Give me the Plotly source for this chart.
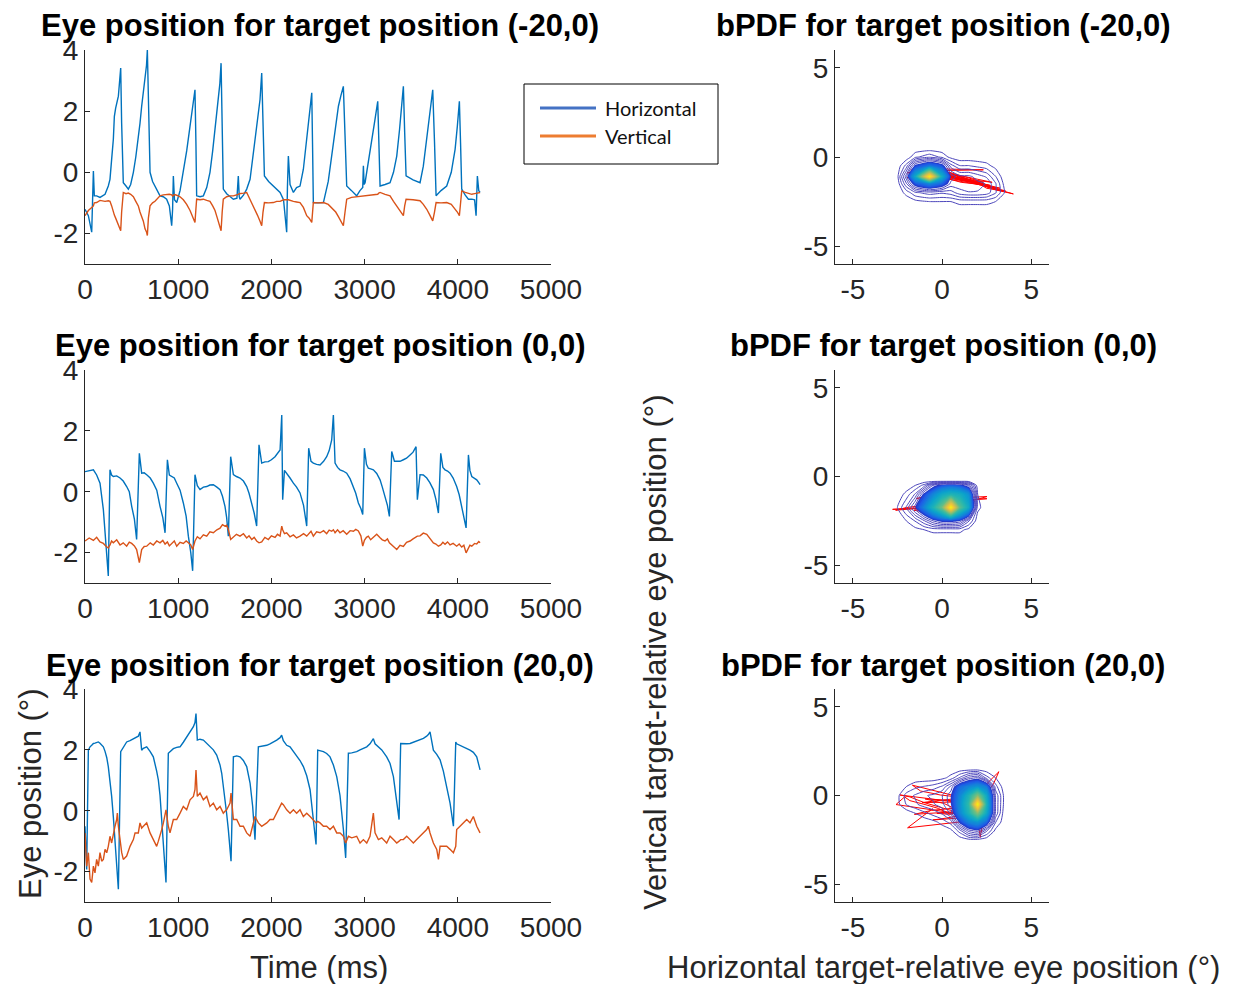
import plotly.graph_objects as go

# ---------------- time series data (ms, degrees) ----------------
t_top = [0,36,72,82,90,100,125,161,215,250,
         268,286,304,315,329,358,368,383,393,404,
         411,440,465,490,519,545,572,590,608,626,
         644,660,669,680,698,725,751,780,805,840,
         876,905,930,940,948,960,984,1020,1055,1091,
         1127,1155,1180,1190,1198,1234,1270,1306,1341,1370,
         1395,1415,1431,1447,1460,1472,1484,1520,1556,1592,
         1630,1645,1655,1663,1700,1735,1771,1800,1824,1850,
         1878,1896,1910,1925,1970,2021,2057,2093,2130,2164,
         2172,2182,2200,2236,2270,2307,2343,2379,2405,2433,
         2442,2450,2500,2558,2610,2665,2690,2719,2745,2772,
         2790,2808,2860,2915,2950,2980,2987,2995,3005,3040,
         3076,3110,3141,3152,3166,3220,3273,3310,3345,3375,
         3398,3416,3430,3445,3520,3595,3630,3667,3700,3731,
         3750,3767,3820,3881,3930,3971,3995,4017,4030,4042,
         4080,4114,4150,4180,4196,4210,4225,4239]
h_top = [-1.21,-1.42,-1.96,-0.77,0.04,-0.77,-0.77,-0.82,-0.72,-0.45,
         -0.23,0.43,1.07,1.83,2.10,2.49,2.82,3.41,1.62,-0.34,
         -0.34,-0.45,-0.55,-0.40,0.00,0.50,1.07,1.60,2.16,2.60,
         3.03,3.50,4.00,2.00,0.00,-0.30,-0.45,-0.60,-0.77,-0.80,
         -0.88,-1.10,-1.75,-1.20,-0.12,-0.90,-0.99,-0.60,0.00,0.70,
         1.51,2.10,2.70,1.00,-0.77,-0.80,-0.77,-0.50,0.00,0.70,
         1.40,1.95,2.38,2.90,3.57,1.50,-0.55,-0.70,-0.80,-0.88,
         -0.85,-0.12,-0.80,-0.88,-0.75,-0.55,-0.23,0.50,1.07,1.70,
         2.38,3.25,1.50,-0.12,-0.30,-0.45,-0.55,-0.66,-0.90,-1.96,
         -0.50,0.53,-0.40,-0.66,-0.50,-0.45,0.10,1.07,1.80,2.60,
         0.80,-0.99,-1.00,-0.99,-0.30,0.86,1.50,2.16,2.50,2.81,
         1.20,-0.45,-0.60,-0.77,-0.60,-0.50,0.21,-0.40,-0.34,0.30,
         1.07,1.70,2.32,0.90,-0.45,-0.40,-0.34,0.00,0.53,1.40,
         2.38,2.81,1.30,-0.12,-0.25,-0.34,0.20,1.07,1.90,2.70,
         1.00,-0.77,-0.60,-0.45,0.00,0.75,1.50,2.32,0.90,-0.55,
         -0.75,-0.88,-0.88,-0.90,-1.42,-0.12,-0.60,-0.66]
v_top = [-1.42,-1.25,-1.15,-1.10,-1.10,-1.00,-0.99,-0.92,-0.95,-0.93,
         -0.95,-1.10,-1.31,-1.40,-1.50,-1.75,-1.80,-1.91,-1.30,-0.66,
         -0.66,-0.70,-0.68,-0.72,-0.80,-0.95,-1.10,-1.30,-1.45,-1.60,
         -1.85,-1.95,-2.07,-1.50,-1.10,-1.00,-0.95,-0.85,-0.77,-0.74,
         -0.72,-0.72,-0.74,-0.78,-0.75,-0.73,-0.75,-0.80,-0.90,-1.05,
         -1.25,-1.45,-1.64,-1.20,-0.88,-0.90,-0.88,-0.92,-0.95,-1.10,
         -1.25,-1.45,-1.64,-1.80,-1.91,-1.30,-0.88,-0.80,-0.77,-0.77,
         -0.75,-0.72,-0.70,-0.70,-0.68,-0.66,-0.88,-1.05,-1.20,-1.40,
         -1.60,-1.75,-1.30,-0.99,-1.00,-0.99,-0.95,-0.95,-0.90,-0.88,
         -0.90,-0.90,-0.92,-0.95,-0.97,-0.99,-1.15,-1.42,-1.50,-1.64,
         -1.30,-0.99,-1.00,-0.99,-1.05,-1.21,-1.30,-1.45,-1.60,-1.75,
         -1.30,-0.88,-0.82,-0.80,-0.78,-0.77,-0.77,-0.77,-0.77,-0.76,
         -0.75,-0.73,-0.72,-0.68,-0.66,-0.72,-0.77,-0.95,-1.10,-1.25,
         -1.35,-1.42,-1.10,-0.88,-0.90,-0.93,-1.05,-1.21,-1.40,-1.59,
         -1.30,-0.99,-1.00,-0.99,-1.05,-1.20,-1.30,-1.42,-1.00,-0.61,
         -0.66,-0.70,-0.72,-0.70,-0.70,-0.68,-0.67,-0.66]

t_mid = [0,45,90,125,161,197,225,250,268,285,
         304,340,376,410,447,475,501,530,554,583,
         608,635,662,700,733,770,805,835,859,884,
         905,930,958,984,1020,1055,1085,1109,1135,1155,
         1180,1205,1234,1270,1306,1340,1377,1415,1449,1475,
         1502,1520,1538,1563,1592,1625,1663,1700,1735,1760,
         1789,1815,1842,1867,1896,1930,1967,2000,2039,2065,
         2093,2111,2121,2140,2164,2200,2236,2270,2307,2345,
         2379,2400,2425,2450,2485,2522,2560,2593,2620,2647,
         2665,2683,2710,2736,2770,2808,2845,2880,2905,2933,
         2960,2980,2998,3020,3040,3065,3094,3130,3166,3190,
         3219,3245,3266,3291,3320,3345,3380,3416,3450,3488,
         3520,3552,3566,3595,3630,3667,3700,3738,3765,3792,
         3817,3840,3863,3890,3917,3950,3988,4015,4042,4065,
         4089,4114,4130,4150,4180,4203,4225,4239]
h_mid = [0.66,0.70,0.72,0.55,0.28,-0.59,-1.79,-2.77,0.72,0.55,
         0.50,0.52,0.45,0.35,0.17,0.00,-0.48,-0.90,-1.57,1.26,
         0.61,0.62,0.56,0.45,0.28,0.05,-0.48,-0.85,-1.35,1.05,
         0.55,0.50,0.45,0.28,0.05,-0.37,-0.80,-1.46,-2.00,-2.60,
         0.56,0.20,0.07,0.15,0.17,0.22,0.23,0.15,0.07,-0.15,
         -0.48,-0.85,-1.46,1.15,0.56,0.50,0.45,0.35,0.17,-0.05,
         -0.37,-0.70,-1.13,1.54,0.94,0.98,0.99,1.05,1.15,1.25,
         1.37,2.52,-0.26,0.70,0.61,0.45,0.28,0.15,-0.04,-0.45,
         -1.13,1.43,1.00,0.94,0.90,0.88,1.00,1.15,1.35,1.70,
         2.52,0.94,0.80,0.72,0.68,0.61,0.42,0.17,-0.05,-0.37,
         -0.55,-0.75,1.43,0.90,0.77,0.75,0.72,0.60,0.39,0.15,
         -0.15,-0.45,-0.81,1.32,1.00,0.99,1.00,1.05,1.10,1.21,
         1.30,1.48,-0.26,0.56,0.55,0.45,0.30,0.07,-0.25,-0.70,
         1.26,0.80,0.72,0.68,0.61,0.45,0.17,-0.10,-0.48,-0.80,
         -1.19,1.21,0.70,0.50,0.45,0.39,0.30,0.23]
v_mid = [-1.62,-1.52,-1.60,-1.50,-1.65,-1.70,-1.79,-1.85,-1.75,-1.62,
         -1.68,-1.58,-1.75,-1.68,-1.79,-1.66,-1.70,-1.78,-1.90,-2.33,
         -1.90,-1.80,-1.79,-1.68,-1.75,-1.62,-1.68,-1.60,-1.72,-1.65,
         -1.78,-1.70,-1.62,-1.79,-1.66,-1.70,-1.62,-1.68,-1.75,-1.90,
         -1.62,-1.48,-1.55,-1.42,-1.46,-1.32,-1.35,-1.25,-1.20,-1.08,
         -1.13,-1.10,-1.24,-1.57,-1.50,-1.40,-1.46,-1.38,-1.52,-1.45,
         -1.57,-1.50,-1.62,-1.68,-1.65,-1.50,-1.57,-1.45,-1.50,-1.40,
         -1.46,-1.13,-1.25,-1.38,-1.35,-1.48,-1.42,-1.52,-1.46,-1.38,
         -1.46,-1.40,-1.30,-1.46,-1.32,-1.35,-1.28,-1.38,-1.26,-1.30,
         -1.25,-1.35,-1.25,-1.35,-1.28,-1.40,-1.28,-1.30,-1.24,-1.29,
         -1.45,-1.79,-1.60,-1.50,-1.46,-1.58,-1.50,-1.40,-1.51,-1.58,
         -1.62,-1.55,-1.68,-1.75,-1.82,-1.90,-1.76,-1.80,-1.66,-1.62,
         -1.55,-1.50,-1.46,-1.45,-1.36,-1.40,-1.55,-1.68,-1.72,-1.79,
         -1.75,-1.66,-1.73,-1.65,-1.75,-1.70,-1.79,-1.72,-1.82,-1.76,
         -2.01,-1.85,-1.76,-1.79,-1.70,-1.72,-1.64,-1.68]

t_bot = [0,18,36,54,72,90,107,125,143,161,
         179,197,215,233,250,268,286,304,322,340,
         347,358,383,394,411,447,483,519,537,572,
         590,608,626,662,698,733,769,787,805,823,
         841,859,869,894,912,948,984,1020,1055,1091,
         1127,1163,1180,1191,1205,1234,1270,1306,1341,1377,
         1413,1449,1467,1484,1502,1520,1538,1556,1567,1592,
         1628,1663,1699,1735,1771,1799,1824,1860,1896,1950,
         1985,2021,2057,2093,2110,2128,2164,2200,2236,2271,
         2307,2343,2379,2415,2450,2479,2497,2522,2558,2593,
         2629,2665,2701,2736,2754,2772,2797,2826,2862,2915,
         2951,2987,3023,3058,3094,3112,3148,3184,3237,3273,
         3309,3345,3370,3387,3416,3452,3488,3523,3559,3595,
         3631,3666,3684,3702,3738,3774,3792,3810,3845,3863,
         3881,3917,3953,3978,3988,4024,4060,4096,4131,4167,
         4203,4239]
h_bot = [-0.51,-1.93,1.99,2.10,2.15,2.21,2.22,2.24,2.26,2.22,
         2.16,2.10,1.95,1.75,1.45,1.00,0.47,-0.20,-0.95,-1.80,
         -2.10,-2.58,1.94,2.00,2.10,2.26,2.30,2.37,2.38,2.45,
         2.59,1.99,2.05,2.10,1.95,1.77,1.30,1.01,0.50,-0.29,
         -1.00,-1.80,-2.36,1.89,1.95,2.04,2.08,2.10,2.25,2.43,
         2.60,2.76,2.90,3.19,2.32,2.35,2.32,2.20,2.10,2.00,
         1.83,1.50,1.23,0.85,0.36,-0.10,-0.62,-1.20,-1.66,1.77,
         1.80,1.77,1.65,1.45,0.91,0.14,-0.95,2.10,2.12,2.15,
         2.20,2.25,2.32,2.40,2.48,2.30,2.15,2.10,1.95,1.77,
         1.65,1.45,1.15,0.69,-0.29,-1.11,1.99,1.97,1.94,1.88,
         1.77,1.50,1.12,0.50,0.03,-0.60,-1.55,1.89,1.90,1.94,
         2.00,2.05,2.10,2.20,2.37,2.20,2.10,2.00,1.77,1.55,
         1.12,0.36,-0.29,2.21,2.20,2.20,2.21,2.25,2.28,2.32,
         2.38,2.45,2.50,2.59,1.99,1.85,1.78,1.67,1.30,1.01,
         0.80,0.25,-0.51,2.26,2.20,2.15,2.08,2.03,1.99,1.92,
         1.77,1.34]
v_bot = [-0.73,-1.82,-1.38,-2.25,-2.36,-1.82,-2.04,-1.60,-1.82,-1.38,
         -1.66,-1.60,-1.27,-1.38,-1.17,-0.84,-1.06,-0.73,-0.51,-0.29,
         -0.08,-0.51,-1.17,-1.38,-1.60,-1.49,-1.17,-0.95,-0.73,-0.73,
         -0.40,-0.57,-0.51,-0.40,-0.73,-0.95,-1.17,-1.00,-0.84,-0.62,
         -0.40,-0.08,0.03,-0.51,-0.73,-0.29,-0.29,-0.08,0.14,0.03,
         0.36,0.47,0.69,1.34,0.47,0.58,0.36,0.47,0.14,0.25,
         0.03,0.14,0.03,-0.08,-0.02,0.03,0.14,0.25,0.58,-0.29,
         -0.29,-0.51,-0.51,-0.73,-0.84,-0.46,-0.19,-0.40,-0.51,-0.40,
         -0.29,-0.29,-0.08,0.14,0.25,0.20,0.03,-0.08,0.03,-0.08,
         0.03,-0.19,-0.08,-0.19,-0.29,-0.40,-0.35,-0.40,-0.51,-0.51,
         -0.62,-0.51,-0.73,-0.73,-0.78,-0.84,-1.06,-0.84,-0.89,-0.84,
         -1.06,-0.95,-1.06,-0.84,-0.08,-0.73,-0.95,-0.89,-1.06,-0.84,
         -0.95,-1.06,-1.00,-0.95,-0.95,-0.84,-0.95,-1.06,-0.95,-0.84,
         -0.73,-0.62,-0.51,-0.73,-1.06,-1.27,-1.60,-1.17,-1.17,-1.17,
         -1.17,-1.27,-1.38,-1.17,-0.62,-0.51,-0.40,-0.29,-0.40,-0.19,
         -0.51,-0.73]

# ---------------- bivariate PDF grids (relative density) ----------------
pdf_top_x = [-3,-2.5,-2,-1.5,-0.7,0,0.5,1,1.5,2,2.5,3,3.5,4]
pdf_top_y = [-3,-2.5,-2,-1.5,-1.1,-0.5,0,0.5]
pdf_top_z = [
    [0,0,0,0,0,0,0,0,0,0,0,0,0,0],
    [0,0,0,0.01,0.02,0.02,0.02,0.03,0.03,0.03,0.03,0.02,0,0],
    [0,0,0.03,0.07,0.09,0.08,0.09,0.12,0.13,0.13,0.12,0.08,0.02,0],
    [0,0,0.10,0.22,0.30,0.24,0.15,0.15,0.15,0.14,0.13,0.08,0.01,0],
    [0,0.01,0.15,0.40,1.00,0.42,0.18,0.14,0.14,0.12,0.10,0.05,0,0],
    [0,0,0.06,0.20,0.28,0.22,0.09,0.05,0.05,0.04,0.03,0.01,0,0],
    [0,0,0,0.04,0.07,0.04,0.01,0,0,0,0,0,0,0],
    [0,0,0,0,0,0,0,0,0,0,0,0,0,0],
]
pdf_mid_x = [-3.5,-3,-2.5,-2,-1.5,-1,-0.5,0,0.5,1,1.5,2,2.5]
pdf_mid_y = [-3.5,-3,-2.5,-1.75,-1,-0.5,-0.25,0.5]
pdf_mid_z = [
    [0,0,0,0,0,0,0,0,0,0,0,0,0],
    [0,0,0,0,0.01,0.02,0.03,0.03,0.03,0.03,0.01,0,0],
    [0,0,0,0.02,0.05,0.10,0.16,0.20,0.20,0.18,0.08,0,0],
    [0,0,0.02,0.08,0.18,0.30,0.45,0.62,1.00,0.58,0.40,0.03,0],
    [0,0,0,0.03,0.08,0.20,0.30,0.40,0.45,0.42,0.33,0.02,0],
    [0,0,0,0,0.02,0.06,0.16,0.22,0.24,0.22,0.15,0,0],
    [0,0,0,0,0,0,0,0,0,0,0,0,0],
    [0,0,0,0,0,0,0,0,0,0,0,0,0],
]
pdf_bot_x = [-3.5,-3,-2.5,-2,-1.5,-1,-0.5,0,0.5,1,1.5,2,2.5,3,3.5,4]
pdf_bot_y = [-3,-2.5,-2,-1.5,-1,-0.5,0,0.5,1,1.5,2]
pdf_bot_z = [
    [0,0,0,0,0,0,0,0,0,0,0,0,0,0,0,0],
    [0,0,0,0,0,0,0,0,0,0,0.01,0.01,0,0,0,0],
    [0,0,0,0,0,0,0,0,0.01,0.06,0.14,0.17,0.08,0.01,0,0],
    [0,0,0,0,0,0,0.01,0.03,0.06,0.20,0.30,0.34,0.25,0.05,0,0],
    [0,0,0,0,0.02,0.04,0.06,0.08,0.14,0.30,0.45,0.65,0.40,0.10,0,0],
    [0,0,0.01,0.05,0.07,0.09,0.10,0.12,0.18,0.32,0.50,1.00,0.45,0.10,0.01,0],
    [0,0,0.01,0.06,0.08,0.10,0.11,0.13,0.18,0.30,0.45,0.65,0.40,0.10,0.01,0],
    [0,0,0,0.02,0.04,0.05,0.06,0.08,0.14,0.25,0.30,0.34,0.28,0.06,0,0],
    [0,0,0,0,0,0,0,0.01,0.03,0.08,0.14,0.16,0.06,0.02,0,0],
    [0,0,0,0,0,0,0,0,0,0,0,0,0,0,0,0],
    [0,0,0,0,0,0,0,0,0,0,0,0,0,0,0,0],
]

# tick labels
time_ticks = [0,1000,2000,3000,4000,5000]
time_tick_text = ["0","1000","2000","3000","4000","5000"]
eye_ticks = [-2,0,2,4]
eye_tick_text = ["-2","0","2","4"]
pdf_ticks = [-5,0,5]
pdf_tick_text = ["-5","0","5"]

titles_left = ["Eye position for target position (-20,0)",
               "Eye position for target position (0,0)",
               "Eye position for target position (20,0)"]
titles_right = ["bPDF for target position (-20,0)",
                "bPDF for target position (0,0)",
                "bPDF for target position (20,0)"]

# ---------------- style ----------------
W, H = 1236, 984
BLUE = "#0072BD"
ORANGE = "#D95319"
AX = "#262626"
FONT = "Liberation Sans, Arial, Helvetica, sans-serif"
PARULA = [[0, "rgba(255,255,255,0)"], [0.02, "#2436C8"], [0.07, "#1E5AE6"],
          [0.14, "#1580DA"], [0.24, "#0BA2CC"], [0.36, "#25B6B0"],
          [0.50, "#62BE88"], [0.64, "#AABD64"], [0.80, "#EEC23C"], [1, "#F9F50E"]]
LINE_LEVEL = "#4D47BC"
FILL_START = 0.18

def px_x(p):
    return p / W

def px_y(p):
    return 1 - p / H

left_dom = [px_x(85), px_x(551)]
right_dom = [px_x(835), px_x(1049)]
row_doms = [[px_y(264), px_y(50)], [px_y(583), px_y(370)], [px_y(902), px_y(689)]]

fig = go.Figure()

series = [(t_top, h_top, v_top), (t_mid, h_mid, v_mid), (t_bot, h_bot, v_bot)]
pdfs = [(pdf_top_x, pdf_top_y, pdf_top_z), (pdf_mid_x, pdf_mid_y, pdf_mid_z),
        (pdf_bot_x, pdf_bot_y, pdf_bot_z)]

for i in range(3):
    la = 2 * i + 1
    ra = 2 * i + 2
    oa = 7 + i
    lx = "x" if la == 1 else f"x{la}"
    ly = "y" if la == 1 else f"y{la}"
    t, h, v = series[i]
    fig.add_trace(go.Scatter(x=t, y=h, mode="lines", line=dict(color=BLUE, width=1.4),
                             xaxis=lx, yaxis=ly, showlegend=False, hoverinfo="skip"))
    fig.add_trace(go.Scatter(x=t, y=v, mode="lines", line=dict(color=ORANGE, width=1.4),
                             xaxis=lx, yaxis=ly, showlegend=False, hoverinfo="skip"))
    # trajectory (horizontal vs vertical), underneath the density
    fig.add_trace(go.Scatter(x=h, y=v, mode="lines", line=dict(color="#FF0000", width=1),
                             xaxis=f"x{ra}", yaxis=f"y{ra}", showlegend=False,
                             hoverinfo="skip"))
    px_, py_, pz_ = pdfs[i]
    fig.add_trace(go.Contour(x=px_, y=py_, z=pz_, xaxis=f"x{oa}", yaxis=f"y{oa}",
                             showscale=False, autocontour=False, colorscale=PARULA,
                             contours=dict(coloring="fill", start=FILL_START, end=1.0,
                                           size=0.02, showlines=False),
                             line=dict(width=0, smoothing=0.5),
                             hoverinfo="skip"))
    fig.add_trace(go.Contour(x=px_, y=py_, z=pz_, xaxis=f"x{oa}", yaxis=f"y{oa}",
                             showscale=False, autocontour=False,
                             contours=dict(coloring="none", start=0.02, end=0.16, size=0.028),
                             line=dict(color=LINE_LEVEL, width=1, smoothing=0.5),
                             hoverinfo="skip"))

axis_common = dict(showline=True, linecolor=AX, linewidth=1, ticks="inside", ticklen=5,
                   tickcolor=AX, tickwidth=1, showgrid=False, zeroline=False,
                   automargin=False,
                   tickfont=dict(family=FONT, size=28, color=AX), fixedrange=True)

layout = dict(template="none", width=W, height=H, autosize=False,
              margin=dict(l=0, r=0, t=0, b=0, pad=0, autoexpand=False),
              paper_bgcolor="white", plot_bgcolor="rgba(0,0,0,0)", showlegend=False)

for i in range(3):
    la = 2 * i + 1
    ra = 2 * i + 2
    oa = 7 + i
    lxk = "xaxis" if la == 1 else f"xaxis{la}"
    lyk = "yaxis" if la == 1 else f"yaxis{la}"
    lyref = "y" if la == 1 else f"y{la}"
    lxref = "x" if la == 1 else f"x{la}"
    layout[lxk] = dict(axis_common, domain=left_dom, range=[0, 5000], anchor=lyref,
                       tickvals=time_ticks, ticktext=time_tick_text)
    layout[lyk] = dict(axis_common, domain=row_doms[i], range=[-3, 4], anchor=lxref,
                       tickvals=eye_ticks, ticktext=eye_tick_text)
    layout[f"xaxis{ra}"] = dict(axis_common, domain=right_dom, range=[-6, 6], anchor=f"y{ra}",
                                tickvals=pdf_ticks, ticktext=pdf_tick_text)
    layout[f"yaxis{ra}"] = dict(axis_common, domain=row_doms[i], range=[-6, 6], anchor=f"x{ra}",
                                tickvals=pdf_ticks, ticktext=pdf_tick_text)
    layout[f"xaxis{oa}"] = dict(overlaying=f"x{ra}", range=[-6, 6], visible=False,
                                anchor=f"y{oa}", fixedrange=True, automargin=False)
    layout[f"yaxis{oa}"] = dict(overlaying=f"y{ra}", range=[-6, 6], visible=False,
                                anchor=f"x{oa}", fixedrange=True, automargin=False)

fig.update_layout(**layout)

annotations = []
title_y = [26, 346, 665]
for i in range(3):
    annotations.append(dict(text=f"<b>{titles_left[i]}</b>", x=px_x(320), y=px_y(title_y[i]),
                            xref="paper", yref="paper", showarrow=False, xanchor="center",
                            yanchor="middle", font=dict(family=FONT, size=31, color="black")))
    annotations.append(dict(text=f"<b>{titles_right[i]}</b>", x=px_x(943), y=px_y(title_y[i]),
                            xref="paper", yref="paper", showarrow=False, xanchor="center",
                            yanchor="middle", font=dict(family=FONT, size=31, color="black")))

label_font = dict(family=FONT, size=31, color=AX)
annotations += [
    dict(text="Time (ms)", x=px_x(319), y=px_y(967), xref="paper", yref="paper",
         showarrow=False, xanchor="center", yanchor="middle", font=label_font),
    dict(text="Horizontal target-relative eye position (°)", x=px_x(943), y=px_y(967),
         xref="paper", yref="paper", showarrow=False, xanchor="center", yanchor="middle",
         font=label_font),
    dict(text="Eye position (°)", x=px_x(30), y=px_y(794), xref="paper", yref="paper",
         showarrow=False, xanchor="center", yanchor="middle", textangle=-90, font=label_font),
    dict(text="Vertical target-relative eye position (°)", x=px_x(655), y=px_y(652),
         xref="paper", yref="paper", showarrow=False, xanchor="center", yanchor="middle",
         textangle=-90, font=label_font),
]

# legend box (drawn manually)
LEG_FONT = dict(family="Lato, Carlito, Calibri, sans-serif", size=20, color="#111111")
annotations += [
    dict(text="Horizontal", x=px_x(603), y=px_y(108), xref="paper", yref="paper",
         showarrow=False, xanchor="left", yanchor="middle", font=LEG_FONT),
    dict(text="Vertical", x=px_x(603), y=px_y(136), xref="paper", yref="paper",
         showarrow=False, xanchor="left", yanchor="middle", font=LEG_FONT),
]
shapes = [
    dict(type="rect", xref="paper", yref="paper", x0=px_x(524), x1=px_x(718),
         y0=px_y(164), y1=px_y(84), line=dict(color="black", width=1), fillcolor="white",
         layer="above"),
    dict(type="line", xref="paper", yref="paper", x0=px_x(540), x1=px_x(596),
         y0=px_y(108), y1=px_y(108), line=dict(color="#4472C4", width=3), layer="above"),
    dict(type="line", xref="paper", yref="paper", x0=px_x(540), x1=px_x(596),
         y0=px_y(136), y1=px_y(136), line=dict(color="#ED7D31", width=3), layer="above"),
]
fig.update_layout(annotations=annotations, shapes=shapes)

fig.write_html("out.html")
